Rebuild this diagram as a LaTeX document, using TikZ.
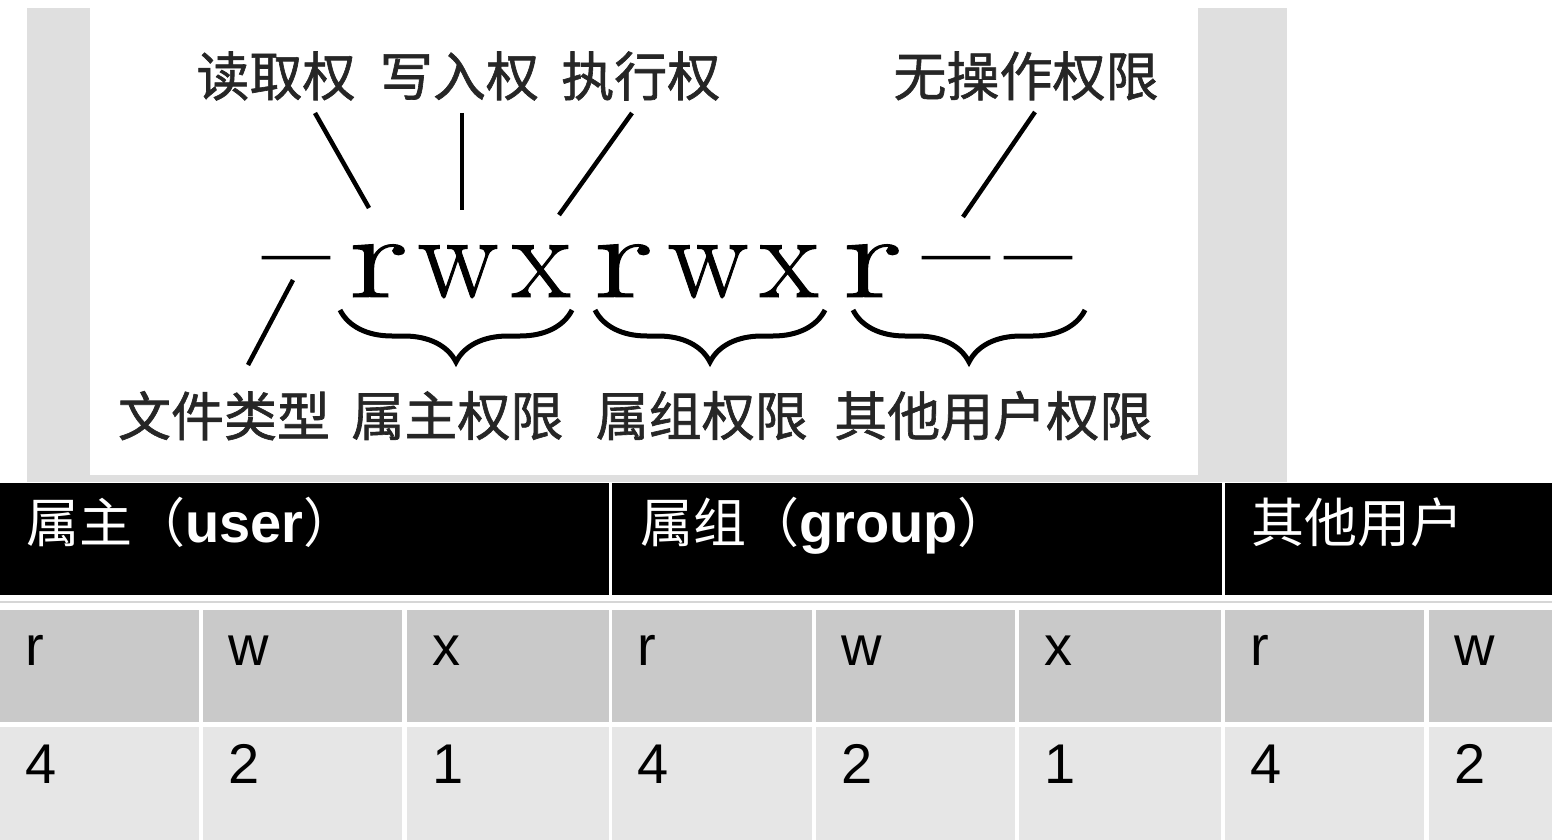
\documentclass[tikz,border=0pt]{standalone}
\usepackage{fontspec}
\usepackage{graphicx}
\newfontfamily\cjk{Noto Sans CJK SC}
\newfontfamily\cjkscan[FakeBold=1.2]{Noto Sans CJK SC}
\newfontfamily\arial{Liberation Sans}
\newfontfamily\lmscan[FakeBold=0.8, Ligatures=TeX]{Latin Modern Roman}
\usetikzlibrary{positioning, decorations.pathreplacing}
\definecolor{bandgray}{HTML}{DFDFDF}
\definecolor{rowgray}{HTML}{C9C9C9}
\definecolor{cellgray}{HTML}{E6E6E6}
\definecolor{rulegray}{HTML}{D6D6D6}

\begin{document}
\begin{tikzpicture}[x=1pt, y=-1pt,
    lbl/.style={font=\cjkscan\fontsize{53}{60}\selectfont, text=black!85, inner sep=0pt, anchor=base},
    perm/.style={font=\lmscan\fontsize{120}{130}\selectfont, inner sep=0pt, anchor=base},
    permdash/.style={font=\lmscan\fontsize{144}{150}\selectfont, inner sep=0pt, anchor=base},
    lead/.style={line width=4.5pt},
    brc/.style={line width=5pt, decorate, decoration={brace, mirror, amplitude=52pt}},
    head/.style={font=\cjk\fontsize{53}{60}\selectfont, text=white, inner sep=0pt, anchor=base west},
    cell/.style={font=\arial\fontsize{56}{60}\selectfont, inner sep=0pt, anchor=base west}]
    \useasboundingbox (0,0) rectangle (1552,840);

    % Scanned figure background
    \fill[bandgray] (27,8) rectangle (1287,482);
    \fill[white] (90,8) rectangle (1198,475);

    % Permission labels (top)
    \node[lbl] (readlbl) at (276,96) {读取权};
    \node[lbl, right=24pt of readlbl] (writelbl) {写入权};
    \node[lbl, right=22pt of writelbl] (execlbl) {执行权};
    \node[lbl] (nonelbl) at (1026,96) {无操作权限};

    % Permission string
    \node[permdash] (ftype) at (296,296) {\textendash};
    \node[perm] (ur) at (378,297) {\scalebox{1.4}[1]{r}};
    \node[perm] (uw) at (458,297) {w};
    \node[perm] (ux) at (541,297) {x};
    \node[perm] (gr) at (623,297) {\scalebox{1.4}[1]{r}};
    \node[perm] (gw) at (708,297) {w};
    \node[perm] (gx) at (789,297) {x};
    \node[perm] (or) at (872,297) {\scalebox{1.4}[1]{r}};
    \node[permdash] (ow) at (956,296) {\textendash};
    \node[permdash] (ox) at (1038,296) {\textendash};

    % Group labels (bottom)
    \node[lbl] (typelbl) at (224,436) {文件类型};
    \node[lbl, right=21pt of typelbl] (userlbl) {属主权限};
    \node[lbl, right=32pt of userlbl] (grouplbl) {属组权限};
    \node[lbl, right=26pt of grouplbl] (otherlbl) {其他用户权限};

    % Pointer lines
    \coordinate (readA) at (315,113);
    \coordinate (readB) at (369,208);
    \coordinate (writeA) at (462,113);
    \coordinate (writeB) at (462,210);
    \coordinate (execA) at (632,113);
    \coordinate (execB) at (559,215);
    \coordinate (noneA) at (1035,112);
    \coordinate (noneB) at (963,217);
    \coordinate (typeA) at (293,280);
    \coordinate (typeB) at (248,365);
    \draw[lead] (readA) -- (readB);
    \draw[lead] (writeA) -- (writeB);
    \draw[lead] (execA) -- (execB);
    \draw[lead] (noneA) -- (noneB);
    \draw[lead] (typeA) -- (typeB);

    % Braces
    \draw[brc] (340,310) -- (572,310);
    \draw[brc] (595,310) -- (825,310);
    \draw[brc] (853,310) -- (1085,310);

    % Table header
    \fill (0,483) rectangle (609,595);
    \fill (612,483) rectangle (1222,595);
    \fill (1225,483) rectangle (1552,595);
    \node[head] (hduser) at (26,542) {属主（{\arial\bfseries\fontsize{56}{60}\selectfont user}）};
    \node[head] (hdgroup) at (640,542) {属组（{\arial\bfseries\fontsize{56}{60}\selectfont group}）};
    \node[head] (hdother) at (1251,542) {其他用户};
    \draw[rulegray, line width=1.5pt] (0,602) -- (1552,602);

    % Letters row
    \fill[rowgray] (0,610) rectangle (199,722);
    \fill[rowgray] (203,610) rectangle (402,722);
    \fill[rowgray] (407,610) rectangle (609,722);
    \fill[rowgray] (612,610) rectangle (812,722);
    \fill[rowgray] (816,610) rectangle (1015,722);
    \fill[rowgray] (1019,610) rectangle (1221,722);
    \fill[rowgray] (1225,610) rectangle (1424,722);
    \fill[rowgray] (1429,610) rectangle (1552,722);
    \node[cell] (cr1) at (25,665) {r};
    \node[cell] (cw1) at (228,665) {w};
    \node[cell] (cx1) at (432,665) {x};
    \node[cell] (cr2) at (637,665) {r};
    \node[cell] (cw2) at (841,665) {w};
    \node[cell] (cx2) at (1044,665) {x};
    \node[cell] (cr3) at (1250,665) {r};
    \node[cell] (cw3) at (1454,665) {w};

    % Values row
    \fill[cellgray] (0,727) rectangle (199,840);
    \fill[cellgray] (203,727) rectangle (402,840);
    \fill[cellgray] (407,727) rectangle (609,840);
    \fill[cellgray] (612,727) rectangle (812,840);
    \fill[cellgray] (816,727) rectangle (1015,840);
    \fill[cellgray] (1019,727) rectangle (1221,840);
    \fill[cellgray] (1225,727) rectangle (1424,840);
    \fill[cellgray] (1429,727) rectangle (1552,840);
    \node[cell] (cv1) at (25,783) {4};
    \node[cell] (cv2) at (228,783) {2};
    \node[cell] (cv3) at (432,783) {1};
    \node[cell] (cv4) at (637,783) {4};
    \node[cell] (cv5) at (841,783) {2};
    \node[cell] (cv6) at (1044,783) {1};
    \node[cell] (cv7) at (1250,783) {4};
    \node[cell] (cv8) at (1454,783) {2};
\end{tikzpicture}
\end{document}
